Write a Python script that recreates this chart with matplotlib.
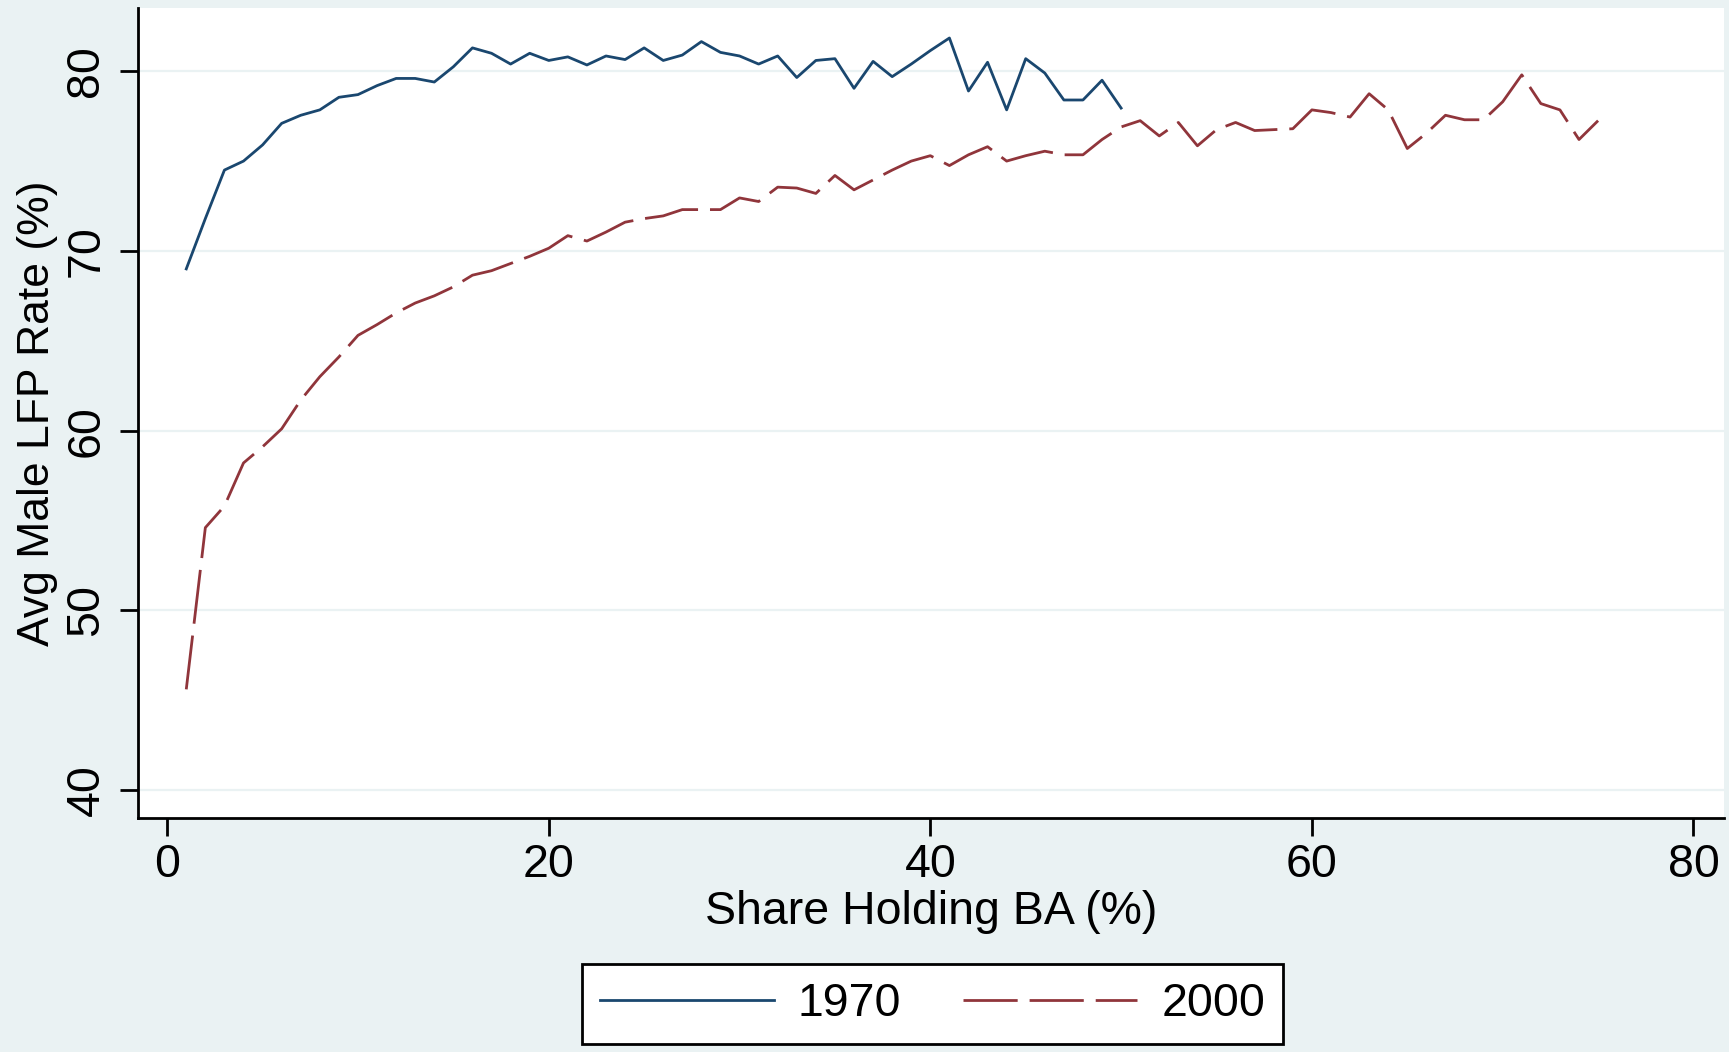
import matplotlib
matplotlib.use("Agg")
import matplotlib.pyplot as plt
from matplotlib.lines import Line2D

# ---- data ----
share_1970 = list(range(1, 51))
lfp_1970 = [69.0, 71.8, 74.5, 75.0, 75.9, 77.1, 77.55, 77.85, 78.55, 78.7,
            79.2, 79.6, 79.6, 79.4, 80.25, 81.3, 81.0, 80.4, 81.0, 80.6,
            80.8, 80.35, 80.85, 80.65, 81.3, 80.6, 80.9, 81.65, 81.05, 80.85,
            80.4, 80.85, 79.65, 80.6, 80.7, 79.05, 80.55, 79.7, 80.4, 81.15,
            81.85, 78.9, 80.5, 77.85, 80.7, 79.9, 78.4, 78.4, 79.5, 77.95]

share_2000 = list(range(1, 76))
lfp_2000 = [45.6, 54.6, 55.8, 58.2, 59.1, 60.1, 61.7, 63.0, 64.1, 65.3,
            65.9, 66.55, 67.1, 67.5, 68.0, 68.65, 68.9, 69.3, 69.7, 70.15,
            70.85, 70.55, 71.05, 71.6, 71.8, 71.95, 72.3, 72.3, 72.3, 72.95,
            72.75, 73.55, 73.5, 73.2, 74.2, 73.4, 73.95, 74.5, 75.0, 75.3,
            74.75, 75.35, 75.8, 75.0, 75.3, 75.55, 75.35, 75.35, 76.2, 76.9,
            77.25, 76.4, 77.15, 75.85, 76.75, 77.15, 76.7, 76.75, 76.8, 77.85,
            77.7, 77.45, 78.75, 77.85, 75.7, 76.55, 77.55, 77.3, 77.3, 78.3,
            79.8, 78.2, 77.85, 76.2, 77.25]

series_labels = ["1970", "2000"]
x_ticks = [0, 20, 40, 60, 80]
y_ticks = [40, 50, 60, 70, 80]
x_title = "Share Holding BA (%)"
y_title = "Avg Male LFP Rate (%)"

# ---- style ----
BG = "#EAF2F3"
NAVY = "#1A476F"
MAROON = "#90353B"
FS = 33.5
FS_Y = 32.0
LW = 2.0
DASH = (19.5, 4.3)

plt.rcParams["font.family"] = ["Liberation Sans", "DejaVu Sans"]

W, H = 1729, 1052
fig = plt.figure(figsize=(W / 100, H / 100), dpi=100, facecolor=BG)
L, R, T, B = 138.0, 1724.0, 8.0, 818.0
ax = fig.add_axes([L / W, 1 - B / H, (R - L) / W, (B - T) / H])
ax.set_facecolor("white")

ax.plot(share_1970, lfp_1970, color=NAVY, lw=LW, zorder=3)
ax.plot(share_2000, lfp_2000, color=MAROON, lw=LW, dashes=DASH, zorder=3)

ax.set_xlim(-1.53, 81.6)
ax.set_ylim(38.44, 83.52)
ax.set_xticks(x_ticks)
ax.set_yticks(y_ticks)
ax.set_xticklabels([str(v) for v in x_ticks])
ax.set_yticklabels([str(v) for v in y_ticks])

ax.grid(axis="y", color=BG, lw=1.6, zorder=1)
ax.set_axisbelow(True)

for s in ["top", "right"]:
    ax.spines[s].set_visible(False)
for s in ["left", "bottom"]:
    ax.spines[s].set_linewidth(2.0)
    ax.spines[s].set_color("black")

ax.tick_params(axis="both", direction="out", length=13.2, width=2.0,
               colors="black", labelsize=FS)
ax.tick_params(axis="x", pad=4.5)
ax.tick_params(axis="y", pad=8.1, labelrotation=90)
for lbl in ax.get_yticklabels():
    lbl.set_va("center")

ax.set_xlabel(x_title, fontsize=FS)
ax.set_ylabel(y_title, fontsize=FS_Y)
ax.xaxis.set_label_coords(0.5, -0.0889)
ax.yaxis.set_label_coords(-0.0503, 0.5)

handles = [Line2D([], [], color=NAVY, lw=LW),
           Line2D([], [], color=MAROON, lw=LW, dashes=DASH)]
leg = fig.legend(handles, series_labels, ncol=2, loc="center",
                 bbox_to_anchor=(932.5 / W, 1 - 1004 / H),
                 fontsize=FS, frameon=True, fancybox=False, shadow=False,
                 framealpha=1, facecolor="white", edgecolor="black",
                 borderpad=0.38, handlelength=3.74, handletextpad=0.52,
                 columnspacing=1.33, borderaxespad=0)
leg.get_frame().set_linewidth(2.0)

fig.savefig("out.png", dpi=100, facecolor=BG)
